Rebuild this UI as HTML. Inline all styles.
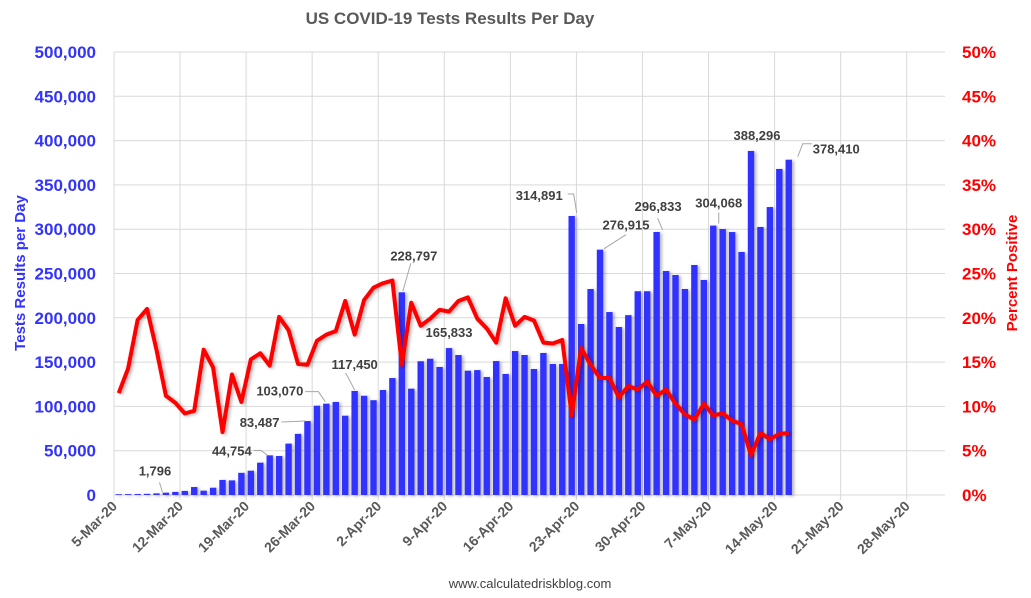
<!DOCTYPE html>
<html><head><meta charset="utf-8"><style>
body{margin:0;background:#fff;}
svg{display:block;font-family:"Liberation Sans",Arial,sans-serif;}
</style></head><body>
<svg id="c" width="1031" height="598">
<defs><filter id="sh" x="-20%" y="-5%" width="160%" height="110%"><feDropShadow dx="2" dy="1" stdDeviation="1.5" flood-color="#000" flood-opacity="0.3"/></filter></defs>
<text x="450" y="24" text-anchor="middle" font-size="17" font-weight="bold" fill="#595959">US COVID-19 Tests Results Per Day</text>
<text transform="translate(25,273) rotate(-90)" text-anchor="middle" font-size="15" font-weight="bold" fill="#3333ff">Tests Results per Day</text>
<text transform="translate(1017,273) rotate(-90)" text-anchor="middle" font-size="15" font-weight="bold" fill="#ff0000">Percent Positive</text>
<text x="530" y="588" text-anchor="middle" font-size="13" fill="#404040">www.calculatedriskblog.com</text>
<g id="grid"></g><g id="bars" filter="url(#sh)"></g><g id="line"></g><g id="labels"></g><g id="axes"></g>
</svg>
<script>
const tests=[900,1000,1100,1300,1796,2600,3500,4600,9000,4900,8200,17000,16500,25000,27400,36500,44754,44000,58000,69000,83487,100800,103070,105000,89500,117450,112000,107000,118500,132000,228797,120000,151000,153800,144500,165833,158000,140300,141000,133200,151200,136600,162500,158000,142200,160300,147900,147900,314891,193000,232500,276915,206500,189600,203000,230000,230000,296833,252800,248300,232500,259600,242700,304068,300200,296800,274300,388296,302500,325000,368000,378410];
const pct=[11.5,14.3,19.75,21.0,16.4,11.2,10.4,9.2,9.5,16.4,14.4,7.1,13.6,10.5,15.3,16.0,14.6,20.1,18.6,14.8,14.7,17.4,18.1,18.5,21.9,18.1,22.0,23.4,23.9,24.2,14.7,21.7,19.1,19.9,20.9,20.7,21.9,22.3,19.9,18.8,17.2,22.2,19.1,20.1,19.7,17.2,17.1,17.5,9.0,16.6,14.7,13.2,13.2,11.0,12.3,11.9,12.8,11.2,11.9,10.3,9.1,8.5,10.3,9.0,9.2,8.4,8.0,4.5,7.0,6.3,6.9,7.0];
const leftTicks=[0,50000,100000,150000,200000,250000,300000,350000,400000,450000,500000];
const rightTicks=[0,5,10,15,20,25,30,35,40,45,50];
const dateLabels=["5-Mar-20","12-Mar-20","19-Mar-20","26-Mar-20","2-Apr-20","9-Apr-20","16-Apr-20","23-Apr-20","30-Apr-20","7-May-20","14-May-20","21-May-20","28-May-20"];
const annotated=[4,16,20,22,25,30,35,48,51,57,63,67,71];
const L=114,R=945,T=52,B=495,DAY=9.437;
const xd=d=>L+d*DAY, yL=v=>B-v/500000*(B-T), yR=p=>B-p/50*(B-T);
const NS="http://www.w3.org/2000/svg";
function mk(p,tag,a){const e=document.createElementNS(NS,tag);for(const k in a)e.setAttribute(k,a[k]);p.appendChild(e);return e;}
const g=document.getElementById('grid'),gb=document.getElementById('bars'),gl=document.getElementById('line'),glab=document.getElementById('labels'),ga=document.getElementById('axes');
leftTicks.forEach((v,i)=>{
 const ln=mk(g,'line',{x1:L,x2:R,y1:yL(v),y2:yL(v),stroke:'#d9d9d9','stroke-width':1});
 
 
 const t=mk(ga,'text',{x:96,y:yL(v)+6,'text-anchor':'end','font-size':17,'font-weight':'bold',fill:'#3333ff'});
 t.textContent=v.toLocaleString('en-US');
 
 
});
rightTicks.forEach(p=>{
 const t=mk(ga,'text',{x:962,y:yR(p)+6,'font-size':17,'font-weight':'bold',fill:'#ff0000'});
 t.textContent=p+'%';
 
 
});
dateLabels.forEach((s,i)=>{
 const x=xd(i*7);
 const ln=mk(g,'line',{x1:x,x2:x,y1:T,y2:B+5,stroke:'#d9d9d9','stroke-width':1});
 
 
 const t=mk(ga,'text',{transform:`translate(${x+4},${B+12}) rotate(-45)`,'text-anchor':'end','font-size':14,'font-weight':'bold',fill:'#595959'});
 t.textContent=s;
 
 
});
tests.forEach((v,i)=>{
 const cx=xd(i+0.5);
 const r=mk(gb,'rect',{x:cx-3.2,y:yL(v),width:6.4,height:Math.max(B-yL(v),0.8),fill:'#3333ff'});
 
 
});
const pl=mk(gl,'polyline',{points:pct.map((p,i)=>xd(i+0.5)+','+yR(p)).join(' '),fill:'none',stroke:'#ff0000','stroke-width':4,'stroke-linejoin':'round',filter:'url(#sh)'});


// label offsets relative to bar top: [dx, dy(baseline), anchor, leader points relative]
const offs={
 4:[-1.5,-18,'middle',[[3,-11],[6,-1]]],
 16:[-18,0,'end',[[-16,-5],[-9,-5],[-2,0]]],
 20:[-28,6,'end',[[-26,1],[-2,0]]],
 22:[-23,-8,'end',[[-21,-12],[-8,-12],[-1,-2]]],
 25:[0,-22,'middle',[[-9,-18],[0,-1]]],
 30:[12,-32,'middle',[[9,-29],[1,-1]]],
 35:[0,-11,'middle',[]],
 48:[-9,-16,'end',[[-4,-22],[2,-22],[5,-3]]],
 51:[26,-20,'middle',[[26,-15],[4,-1]]],
 57:[1.5,-21,'middle',[[1,-14],[6,-2]]],
 63:[5.5,-18,'middle',[[5.5,-13],[5.5,-2]]],
 67:[6,-11,'middle',[]],
 71:[24,-6,'start',[[23,-16],[14,-16],[9,-3]]]
};
annotated.forEach(i=>{
 const v=tests[i],cx=xd(i+0.5),y=yL(v),o=offs[i];
 if(o[3].length){
  const ld=mk(glab,'polyline',{points:o[3].map(p=>(cx+p[0])+','+(y+p[1])).join(' '),fill:'none',stroke:'#a6a6a6','stroke-width':1});
  
  
 }
 const t=mk(glab,'text',{x:cx+o[0],y:y+o[1],'text-anchor':o[2],'font-size':13,'font-weight':'bold',fill:'#404040'});
 t.textContent=v.toLocaleString('en-US');
 
 
});
</script>
</body></html>
